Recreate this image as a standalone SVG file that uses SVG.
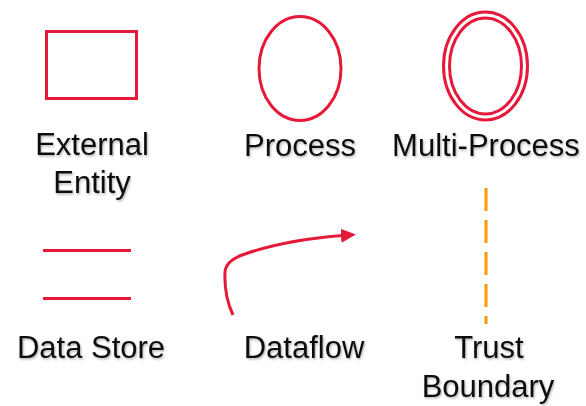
<svg xmlns="http://www.w3.org/2000/svg" width="586" height="406" viewBox="0 0 586 406">
<style>
.shape{fill:none;stroke:#E5193A;stroke-width:3}
.lbl{font-family:"Liberation Sans",Arial,sans-serif;font-size:31px;fill:#111;text-anchor:middle;filter:url(#sh)}
.trust{fill:none;stroke:#FF9A00;stroke-width:3;stroke-dasharray:23 9}
</style>
<defs>
<filter id="sh" x="-10%" y="-20%" width="120%" height="150%">
<feDropShadow dx="1" dy="1.5" stdDeviation="1" flood-color="#000" flood-opacity="0.3"/>
</filter>
<marker id="arr" markerWidth="16" markerHeight="16" refX="2" refY="8" orient="auto" markerUnits="userSpaceOnUse">
<path d="M0,1 L15,8 L0,15 Z" fill="#E5193A"/>
</marker>
</defs>
<rect width="586" height="406" fill="#fff"/>
<g id="external-entity">
<rect class="shape" x="46.5" y="31.5" width="90" height="67"/>
<text class="lbl" x="92" y="155">External</text>
<text class="lbl" x="92" y="193">Entity</text>
</g>
<g id="process">
<ellipse class="shape" cx="300" cy="68.5" rx="41" ry="52"/>
<text class="lbl" x="300" y="156">Process</text>
</g>
<g id="multi-process">
<ellipse class="shape" cx="485.5" cy="66" rx="42" ry="54"/>
<ellipse class="shape" cx="485.5" cy="66" rx="36" ry="48"/>
<text class="lbl" x="486" y="156">Multi-Process</text>
</g>
<g id="data-store">
<line class="shape" x1="43" y1="250.5" x2="131" y2="250.5"/>
<line class="shape" x1="43" y1="298.5" x2="131" y2="298.5"/>
<text class="lbl" x="91" y="358">Data Store</text>
</g>
<g id="connectors">
<path class="shape" d="M233,315 Q224,296 225,272 Q226,260 245,254 Q285,240 343,235.5" marker-end="url(#arr)"/>
</g>
<g id="dataflow">
<text class="lbl" x="304" y="358">Dataflow</text>
</g>
<g id="trust-boundary">
<line class="trust" x1="486" y1="188" x2="486" y2="324"/>
<text class="lbl" x="489" y="358">Trust</text>
<text class="lbl" x="488" y="397">Boundary</text>
</g>
</svg>
